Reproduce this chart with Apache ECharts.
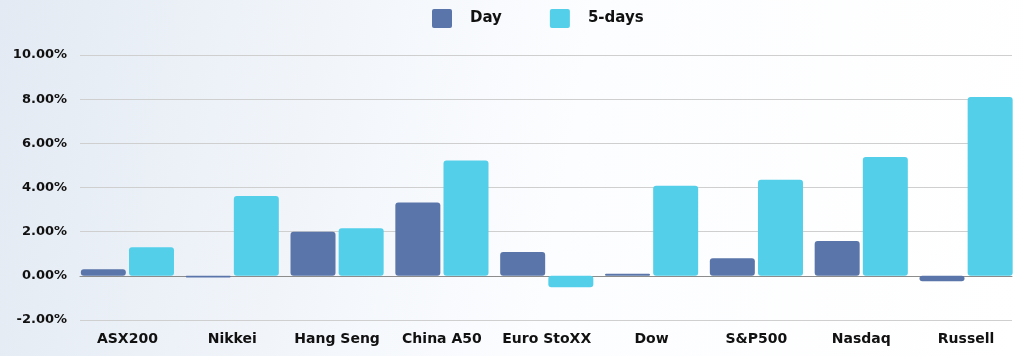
<!DOCTYPE html>
<html>
<head>
<meta charset="utf-8">
<script src="https://cdn.jsdelivr.net/npm/echarts@6/dist/echarts.min.js"></script>
<style>
html,body{margin:0;padding:0;}
body{width:1024px;height:356px;background:linear-gradient(100deg,#e3eaf3 0%,#f1f5fa 30%,#fcfdff 55%,#ffffff 100%);}
#c{width:1024px;height:356px;}
</style>
</head>
<body>
<div id="c"></div>
<script>
const categories = ['ASX200','Nikkei','Hang Seng','China A50','Euro StoXX','Dow','S&P500','Nasdaq','Russell'];
const dayValues = [0.30, -0.07, 2.00, 3.32, 1.08, 0.10, 0.80, 1.58, -0.25];
const fiveDayValues = [1.30, 3.62, 2.15, 5.22, -0.52, 4.08, 4.35, 5.38, 8.10];
const seriesNames = ['Day','5-days'];
const yMin = -2, yMax = 10, yStep = 2;

const FONT = '"DejaVu Sans", sans-serif';
const chart = echarts.init(document.getElementById('c'), null, {renderer:'canvas'});
chart.setOption({
  backgroundColor: 'transparent',
  animation: false,
  legend: {
    data: seriesNames,
    left: 427, top: 4,
    itemWidth: 20, itemHeight: 19, itemGap: 48,
    icon: 'path://M2,0 H18 Q20,0 20,2 V17 Q20,19 18,19 H2 Q0,19 0,17 V2 Q0,0 2,0 Z',
    textStyle: {fontFamily: FONT, fontWeight: 700, fontSize: 15, color: '#111', padding: [0,0,0,13]}
  },
  grid: [
    {left: 75, right: 5.5, top: 55, bottom: 36},
    {left: 80, right: 12, top: 55, bottom: 36}
  ],
  xAxis: [
    {type: 'category', gridIndex: 0, data: categories,
     axisLine: {show: false}, axisTick: {show: false},
     axisLabel: {fontFamily: FONT, fontWeight: 700, fontSize: 14, color: '#111', margin: 12, interval: 0}},
    {type: 'category', gridIndex: 1, data: categories,
     axisLine: {show: true, onZero: true, lineStyle: {color: '#8c8c8c', width: 1}},
     axisTick: {show: false}, axisLabel: {show: false}}
  ],
  yAxis: [
    {type: 'value', gridIndex: 0, min: yMin, max: yMax, interval: yStep,
     axisLabel: {show: false}, splitLine: {show: false}, axisLine: {show: false}, axisTick: {show: false}},
    {type: 'value', gridIndex: 1, min: yMin, max: yMax, interval: yStep,
     axisLine: {show: false}, axisTick: {show: false},
     splitLine: {show: true, lineStyle: {color: '#cfcfcf', width: 1}},
     axisLabel: {fontFamily: FONT, fontWeight: 700, fontSize: 13, color: '#111', margin: 13,
       formatter: v => v.toFixed(2) + '%'}}
  ],
  series: [
    {name: seriesNames[0], type: 'bar', xAxisIndex: 0, yAxisIndex: 0, data: dayValues,
     barWidth: 45, barGap: '7%', itemStyle: {color: '#5a75a9', borderRadius: 3}, z: 3},
    {name: seriesNames[1], type: 'bar', xAxisIndex: 0, yAxisIndex: 0, data: fiveDayValues,
     barWidth: 45, barGap: '7%', itemStyle: {color: '#53cfea', borderRadius: 3}, z: 3}
  ]
});
</script>
</body>
</html>
